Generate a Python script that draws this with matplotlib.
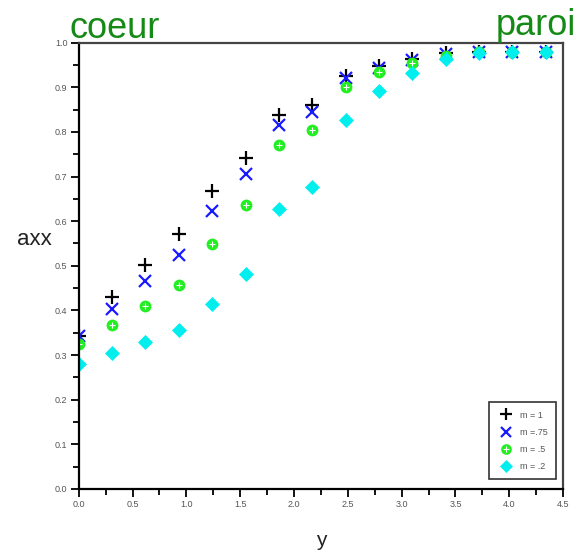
import matplotlib
matplotlib.use("Agg")
import matplotlib.pyplot as plt
from matplotlib.ticker import MultipleLocator

plt.rcParams['font.family'] = ['Liberation Sans', 'DejaVu Sans']

# positions across the channel
y_pos = [0.00, 0.31, 0.62, 0.93, 1.24, 1.55, 1.86, 2.17, 2.48, 2.79,
         3.10, 3.41, 3.72, 4.03, 4.34]

axx_m1 = [0.343, 0.430, 0.502, 0.571, 0.667, 0.741, 0.838, 0.860, 0.925,
          0.947, 0.963, 0.976, 0.980, 0.980, 0.980]
axx_m075 = [0.343, 0.403, 0.466, 0.524, 0.623, 0.705, 0.815, 0.845, 0.920,
            0.943, 0.961, 0.974, 0.980, 0.980, 0.980]
axx_m05 = [0.325, 0.367, 0.410, 0.457, 0.549, 0.636, 0.770, 0.804, 0.900,
           0.934, 0.954, 0.970, 0.978, 0.980, 0.980]
axx_m02 = [0.280, 0.305, 0.329, 0.356, 0.414, 0.481, 0.627, 0.676, 0.826,
           0.891, 0.932, 0.963, 0.976, 0.980, 0.980]

labels = ["m = 1", "m =.75", "m = .5", "m = .2"]

fig = plt.figure(figsize=(5.85, 5.5), dpi=100)
ax = fig.add_axes([0.1345, 0.111, 0.828, 0.8115])

h1, = ax.plot(y_pos, axx_m1, linestyle='none', marker='+', ms=10, mew=1.6,
              color='black')
h2, = ax.plot(y_pos, axx_m075, linestyle='none', marker='x', ms=8, mew=1.6,
              color='#1a1aff')
h3a, = ax.plot(y_pos, axx_m05, linestyle='none', marker='o', ms=8.5, mew=0,
               color='#22ee22')
h3b, = ax.plot(y_pos, axx_m05, linestyle='none', marker='+', ms=5, mew=0.8,
               color='white')
h4, = ax.plot(y_pos, axx_m02, linestyle='none', marker='D', ms=7, mew=0.5,
              color='#00eeee')

ax.set_xlim(0, 4.5)
ax.set_ylim(0, 1.0)
ax.xaxis.set_major_locator(MultipleLocator(0.5))
ax.xaxis.set_minor_locator(MultipleLocator(0.25))
ax.yaxis.set_major_locator(MultipleLocator(0.1))
ax.yaxis.set_minor_locator(MultipleLocator(0.05))
ax.xaxis.set_major_formatter(lambda v, p: f"{v:.1f}")
ax.yaxis.set_major_formatter(lambda v, p: f"{v:.1f}")

ax.tick_params(which='both', direction='out', color='black', width=1.3,
               top=False, right=False)
ax.tick_params(which='major', length=6, labelsize=6.5, labelcolor='#555555', pad=2)
ax.tick_params(which='minor', length=4)

for side in ('left', 'bottom'):
    ax.spines[side].set_linewidth(1.6)
    ax.spines[side].set_color('black')
for side in ('top', 'right'):
    ax.spines[side].set_linewidth(1.6)
    ax.spines[side].set_color('#444444')

narrow = ['Liberation Sans Narrow', 'Liberation Sans', 'DejaVu Sans']
ax.set_xlabel('y', fontsize=15, color='#222222', labelpad=16, family=narrow)
ax.set_ylabel('axx', fontsize=16, color='#222222', rotation=0, family=narrow,
              va='center', ha='center')
ax.yaxis.set_label_coords(-0.092, 0.56)

leg = ax.legend(handles=[h1, h2, (h3a, h3b), h4], labels=labels,
                loc='lower right', fontsize=6.5, frameon=True, fancybox=False,
                edgecolor='black', borderpad=0.9, handletextpad=0.6,
                labelspacing=0.9, markerscale=0.9,
                bbox_to_anchor=(0.995, 0.012))
leg.get_frame().set_linewidth(1.2)
for t in leg.get_texts():
    t.set_color('#555555')

fig.text(0.118, 0.931, 'coeur', color='#168a16', fontsize=26,
         ha='left', va='baseline')
fig.text(0.984, 0.937, 'paroi', color='#168a16', fontsize=26,
         ha='right', va='baseline')

fig.savefig('out.png', dpi=100)
